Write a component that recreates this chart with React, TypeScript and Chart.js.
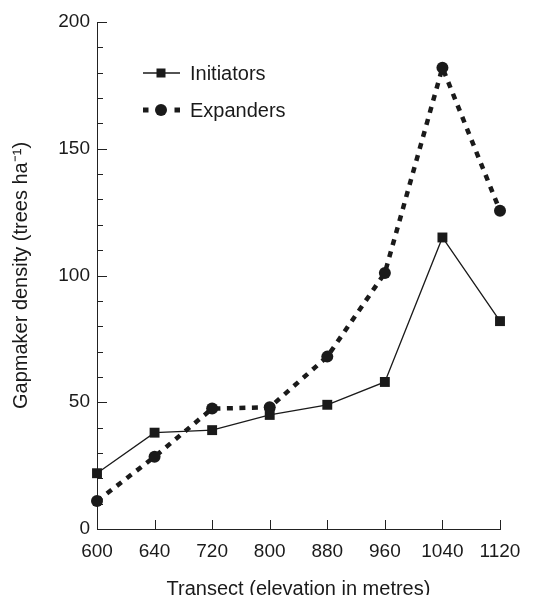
import { useEffect, useRef } from 'react';
import { Chart, registerables } from 'chart.js';

Chart.register(...registerables);

const categories = ['600', '640', '720', '800', '880', '960', '1040', '1120'];
const initiators = [22, 38, 39, 45, 49, 58, 115, 82];
const expanders = [11, 28.5, 47.5, 48, 68, 101, 182, 125.5];
const yMajorTicks = [0, 50, 100, 150, 200];
const seriesNames = ['Initiators', 'Expanders'];
const xTitle = 'Transect (elevation in metres)';
const yTitle = 'Gapmaker density (trees ha\u207B\u00B9)';

const INK = '#1a1a1a';
const FONT = '"Liberation Sans", Arial, Helvetica, sans-serif';

const inwardTicks = {
  id: 'inwardTicks',
  beforeDatasetsDraw(chart: any) {
    const { ctx, chartArea, scales } = chart;
    const xs = scales.x;
    const ys = scales.y;
    ctx.save();
    ctx.strokeStyle = '#222';
    ctx.lineWidth = 1;
    ys.ticks.forEach((t: any) => {
      const py = Math.round(ys.getPixelForValue(t.value)) + 0.5;
      const len = yMajorTicks.includes(t.value) ? 10 : 6;
      ctx.beginPath();
      ctx.moveTo(chartArea.left, py);
      ctx.lineTo(chartArea.left + len, py);
      ctx.stroke();
    });
    categories.forEach((_, i) => {
      const px = Math.round(xs.getPixelForValue(i)) + 0.5;
      ctx.beginPath();
      ctx.moveTo(px, chartArea.bottom);
      ctx.lineTo(px, chartArea.bottom - 9);
      ctx.stroke();
    });
    ctx.restore();
  },
};

const insetLegend = {
  id: 'insetLegend',
  afterDatasetsDraw(chart: any) {
    const { ctx, chartArea } = chart;
    const x0 = chartArea.left + 46;
    const x1 = x0 + 37;
    const xm = x0 + 18;
    const tx = x0 + 47;
    const rows = [chartArea.top + 51, chartArea.top + 88];
    ctx.save();
    ctx.strokeStyle = INK;
    ctx.fillStyle = INK;
    ctx.lineWidth = 1.3;
    ctx.beginPath();
    ctx.moveTo(x0, rows[0]);
    ctx.lineTo(x1, rows[0]);
    ctx.stroke();
    ctx.fillRect(xm - 4.5, rows[0] - 4.5, 9, 9);
    ctx.lineWidth = 5;
    ctx.setLineDash([5.5, 26]);
    ctx.beginPath();
    ctx.moveTo(x0, rows[1]);
    ctx.lineTo(x1, rows[1]);
    ctx.stroke();
    ctx.setLineDash([]);
    ctx.beginPath();
    ctx.arc(xm, rows[1], 6, 0, Math.PI * 2);
    ctx.fill();
    ctx.font = `20px ${FONT}`;
    ctx.textBaseline = 'middle';
    ctx.textAlign = 'left';
    ctx.fillText(seriesNames[0], tx, rows[0] + 1);
    ctx.fillText(seriesNames[1], tx, rows[1] + 1);
    ctx.restore();
  },
};

export default function App() {
  const ref = useRef<HTMLCanvasElement | null>(null);

  useEffect(() => {
    if (!ref.current) return;
    const chart = new Chart(ref.current, {
      type: 'line',
      data: {
        labels: categories,
        datasets: [
          {
            label: seriesNames[0],
            data: initiators,
            borderColor: INK,
            backgroundColor: INK,
            borderWidth: 1.3,
            pointStyle: 'rect',
            pointRadius: 7,
            pointBorderWidth: 0,
            pointBackgroundColor: INK,
            tension: 0,
            clip: false,
          },
          {
            label: seriesNames[1],
            data: expanders,
            borderColor: INK,
            backgroundColor: INK,
            borderWidth: 4.5,
            borderDash: [6, 6.5],
            borderCapStyle: 'butt',
            pointStyle: 'circle',
            pointRadius: 6,
            pointBorderWidth: 0,
            pointBackgroundColor: INK,
            tension: 0,
            clip: false,
          },
        ],
      },
      options: {
        responsive: false,
        animation: false,
        devicePixelRatio: 1,
        layout: { padding: { top: 22, right: 43, left: 0, bottom: 0 } },
        plugins: {
          legend: { display: false },
          tooltip: { enabled: false },
        },
        scales: {
          x: {
            type: 'category',
            offset: false,
            grid: { display: false, drawTicks: false },
            border: { display: true, color: '#222', width: 1 },
            ticks: {
              color: INK,
              font: { family: FONT, size: 19 },
              padding: 11,
              maxRotation: 0,
              autoSkip: false,
            },
            title: {
              display: true,
              text: xTitle,
              color: INK,
              font: { family: FONT, size: 20, lineHeight: 1 },
              padding: { top: 0, bottom: -4 },
            },
            afterFit(scale: any) {
              scale.height = 66;
            },
          },
          y: {
            min: 0,
            max: 200,
            grid: { display: false, drawTicks: false },
            border: { display: true, color: '#222', width: 1 },
            ticks: {
              stepSize: 10,
              autoSkip: false,
              color: INK,
              font: { family: FONT, size: 19 },
              padding: 7,
              callback: (v: any) => (yMajorTicks.includes(Number(v)) ? String(v) : ''),
            },
            title: {
              display: true,
              text: yTitle,
              color: INK,
              font: { family: FONT, size: 20, lineHeight: 1 },
              padding: { top: 11, bottom: 0 },
            },
            afterFit(scale: any) {
              scale.width = 97;
            },
          },
        },
      },
      plugins: [inwardTicks, insetLegend],
    } as any);
    return () => chart.destroy();
  }, []);

  return (
    <div style={{ position: 'absolute', left: 0, top: 0, width: 543, height: 595, background: '#fff' }}>
      <canvas ref={ref} width={543} height={595} />
    </div>
  );
}
